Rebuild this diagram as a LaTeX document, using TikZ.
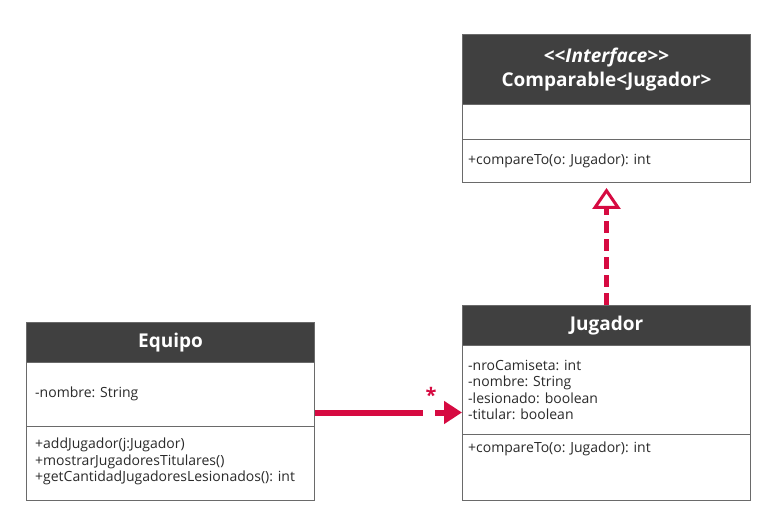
\documentclass[tikz,border=0pt]{standalone}
\usepackage{fontspec}
\setmainfont{Open Sans}
\usetikzlibrary{arrows.meta}
\definecolor{hdr}{HTML}{404040}
\definecolor{umlred}{RGB}{214,10,65}
\definecolor{bord}{HTML}{6A6A6A}
\definecolor{txtc}{HTML}{2A2A2A}
\begin{document}
\begin{tikzpicture}[x=1pt,y=-1pt,
  box/.style={draw=bord, line width=1pt, anchor=north west, inner sep=0pt, minimum width=288pt},
  hdrbox/.style={box, fill=hdr, text=white, font=\bfseries\fontsize{19}{23.5}\selectfont, align=center},
  txt/.style={anchor=west, inner sep=0pt, text=txtc, font=\fontsize{14}{16.6}\selectfont, align=left},
  assoc/.style={draw=umlred, line width=6pt, -{Triangle[length=18pt, width=22pt]}},
  realize/.style={draw=umlred, line width=5pt, dash pattern=on 12pt off 6pt,
     -{Triangle[open, length=21pt, width=28pt, line width=3pt]}, shorten >=5pt},
]
\useasboundingbox (0,0) rectangle (779,521);
\fill[white] (0,0) rectangle (779,521);

% Interface
\node[hdrbox, minimum height=70pt] (ihdr) at (462,34) {<\kern0pt<\textit{Interface}>\kern0pt>\\Comparable<Jugador>};
\node[box, minimum height=35pt] (iattr) at (462,104) {};
\node[box, minimum height=43pt] (imeth) at (462,139) {};
\node[txt] (imtxt) at ([xshift=6pt]imeth.west) {+compareTo(o: Jugador): int};

% Equipo
\node[hdrbox, minimum height=40pt] (ehdr) at (26,322) {Equipo};
\node[box, minimum height=64pt] (eattr) at (26,362) {};
\node[box, minimum height=74pt] (emeth) at (26,426) {};
\node[txt] (eatxt) at ([xshift=9pt,yshift=1pt]eattr.west) {-nombre: String};
\node[txt] (emtxt) at ([xshift=9pt,yshift=2pt]emeth.west) {+addJugador(j:Jugador)\\+mostrarJugadoresTitulares()\\+getCantidadJugadoresLesionados(): int};

% Jugador
\node[hdrbox, minimum height=40pt] (jhdr) at (462,305) {Jugador};
\node[box, minimum height=89pt] (jattr) at (462,345) {};
\node[box, minimum height=66pt] (jmeth) at (462,434) {};
\node[txt] (jatxt) at ([xshift=6pt]jattr.west) {-nroCamiseta: int\\-nombre: String\\-lesionado: boolean\\-titular: boolean};
\node[txt, anchor=north west] (jmtxt) at ([xshift=6pt,yshift=-8pt]jmeth.north west) {+compareTo(o: Jugador): int};

% connectors
\draw[realize] (jhdr.north) -- (imeth.south);
\draw[assoc] ([yshift=-18pt]eattr.east) -- ([yshift=-18pt]eattr.east -| jattr.west);
\node[fill=white, inner sep=0pt, minimum width=12pt, minimum height=10pt] (gap) at (429,412) {};
\node[inner sep=0pt, text=umlred, font=\bfseries\fontsize{20}{20}\selectfont] (mult) at (431,395) {*};
\end{tikzpicture}
\end{document}
